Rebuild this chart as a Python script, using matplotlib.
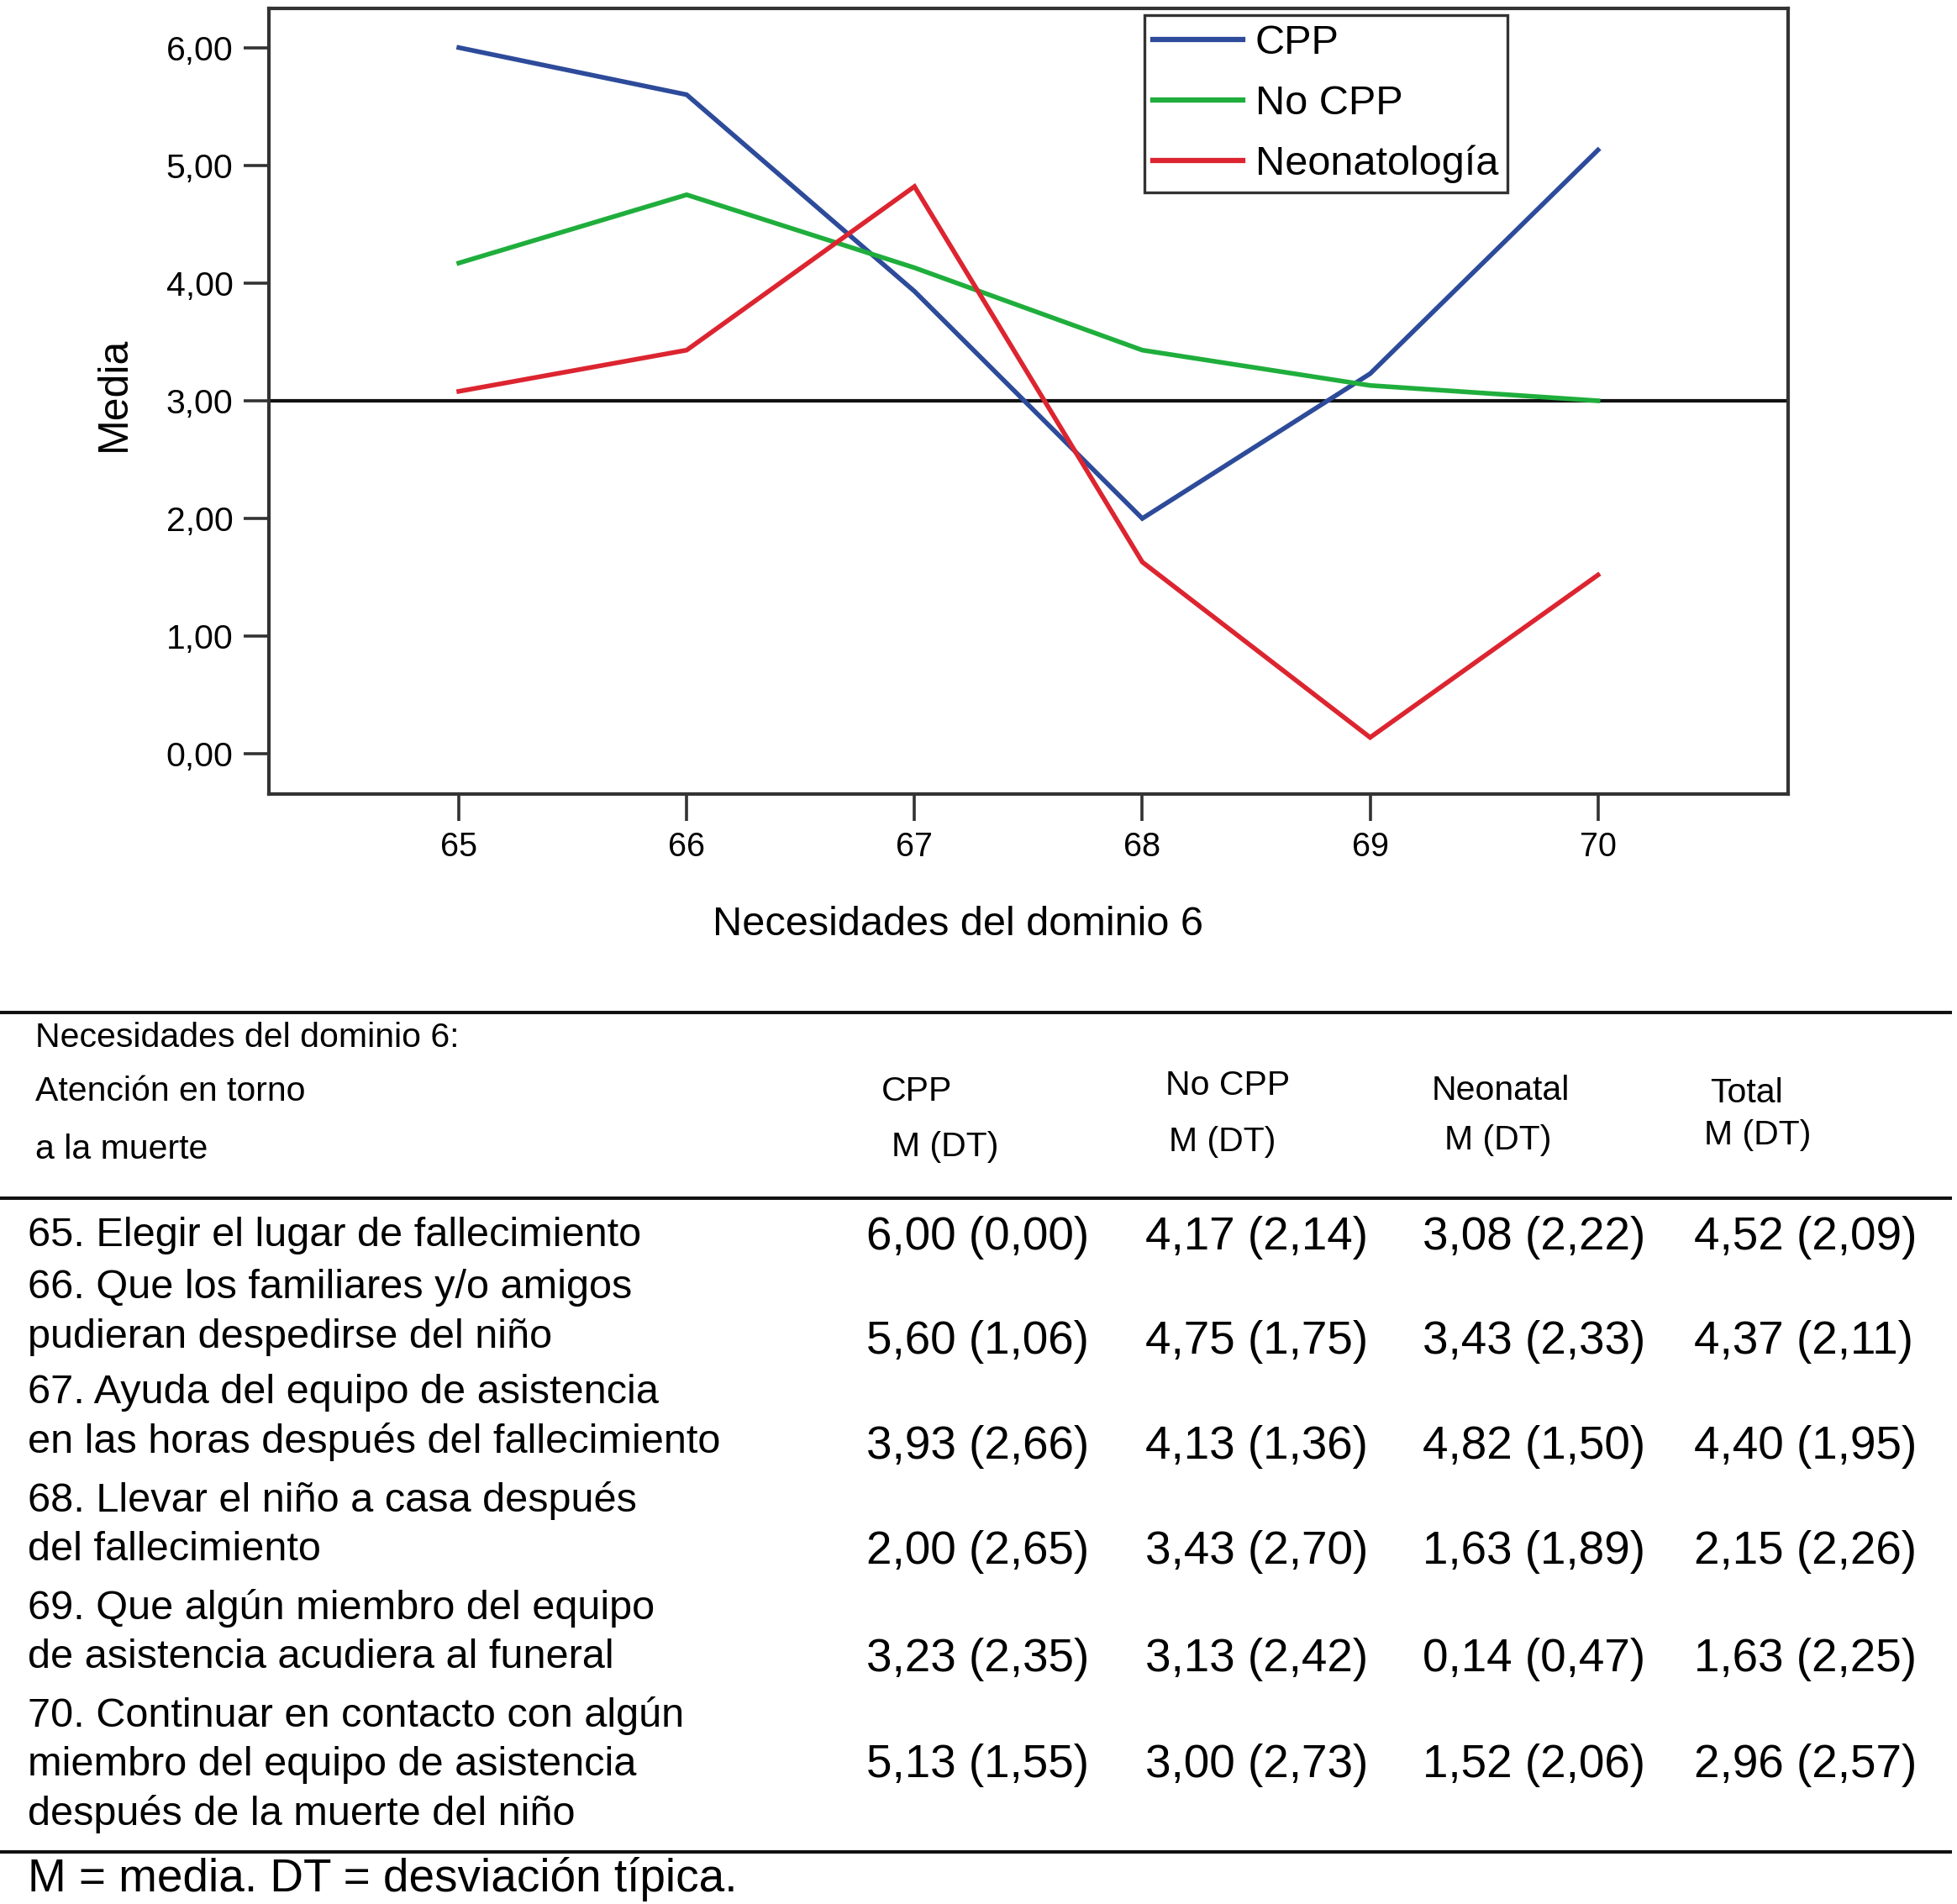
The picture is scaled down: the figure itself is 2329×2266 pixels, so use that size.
import matplotlib
matplotlib.use("Agg")
import matplotlib.pyplot as plt
from matplotlib.lines import Line2D

plt.rcParams['font.family'] = ['Liberation Sans', 'DejaVu Sans']

# ---------------- data ----------------
items = [65, 66, 67, 68, 69, 70]
cpp_m = [6.00, 5.60, 3.93, 2.00, 3.23, 5.13]
cpp_sd = [0.00, 1.06, 2.66, 2.65, 2.35, 1.55]
nocpp_m = [4.17, 4.75, 4.13, 3.43, 3.13, 3.00]
nocpp_sd = [2.14, 1.75, 1.36, 2.70, 2.42, 2.73]
neo_m = [3.08, 3.43, 4.82, 1.63, 0.14, 1.52]
neo_sd = [2.22, 2.33, 1.50, 1.89, 0.47, 2.06]
tot_m = [4.52, 4.37, 4.40, 2.15, 1.63, 2.96]
tot_sd = [2.09, 2.11, 1.95, 2.26, 2.25, 2.57]

series_names = ["CPP", "No CPP", "Neonatología"]
yticks = [0, 1, 2, 3, 4, 5, 6]
ytick_labels = ["0,00", "1,00", "2,00", "3,00", "4,00", "5,00", "6,00"]
reference_level = 3.0

item_labels = [
    ["65. Elegir el lugar de fallecimiento"],
    ["66. Que los familiares y/o amigos", "pudieran despedirse del niño"],
    ["67. Ayuda del equipo de asistencia", "en las horas después del fallecimiento"],
    ["68. Llevar el niño a casa después", "del fallecimiento"],
    ["69. Que algún miembro del equipo", "de asistencia acudiera al funeral"],
    ["70. Continuar en contacto con algún", "miembro del equipo de asistencia",
     "después de la muerte del niño"],
]
header_lines = ["Necesidades del dominio 6:", "Atención en torno", "a la muerte"]
col_headers = ["CPP", "No CPP", "Neonatal", "Total"]
footnote = "M = media. DT = desviación típica."

# ---------------- figure ----------------
W, H = 2329, 2266
fig = plt.figure(figsize=(W / 100, H / 100), dpi=100)

DW, DH = 1565.2, 1522.8  # reference display scale helpers
def fx(x):
    return x / DW
def fy(y):
    return 1 - y / DH

ax = fig.add_axes([fx(215), fy(635), fx(1430) - fx(215), fy(7) - fy(635)])

colors = ["#2d4b9a", "#1fae3c", "#dc2530"]
for vals, name, c in zip([cpp_m, nocpp_m, neo_m], series_names, colors):
    ax.plot(items, vals, color=c, lw=4.0, label=name, solid_joinstyle='miter')

ax.axhline(reference_level, color="#111111", lw=3.0, zorder=1)

ax.set_xlim(64.166, 70.834)
ax.set_ylim(-0.34, 6.33)
ax.set_xticks(items)
ax.set_xticklabels([str(i) for i in items])
ax.set_yticks(yticks)
ax.set_yticklabels(ytick_labels)

spine_c = "#333333"
for s in ax.spines.values():
    s.set_linewidth(3.0)
    s.set_color(spine_c)

ax.tick_params(axis='y', length=21.5, width=2.6, color=spine_c, pad=9,
               labelsize=29.5, direction='out')
ax.tick_params(axis='x', length=23, width=2.6, color=spine_c, pad=9,
               labelsize=28.5, direction='out')

ax.set_xlabel("Necesidades del dominio 6", fontsize=35)
ax.xaxis.set_label_coords((766 - 215) / 1215, -0.142)
ax.set_ylabel("Media", fontsize=36)
ax.yaxis.set_label_coords((107 - 215) / 1215, 0.5096)

leg = ax.legend(loc='upper left', bbox_to_anchor=((915 - 215) / 1215, (635 - 12) / 628),
                borderaxespad=0, fontsize=35, frameon=True, fancybox=False,
                handlelength=2.2, handletextpad=0.3, labelspacing=0.56,
                borderpad=0.22, edgecolor='black')
leg.get_frame().set_linewidth(2.4)
for l in leg.get_lines():
    l.set_linewidth(4.5)

# ---------------- table ----------------
rule_lw = 2.9
for yr in [810, 958, 1481]:
    fig.add_artist(Line2D([0, fx(1560)], [fy(yr), fy(yr)], color="#111111", lw=rule_lw))

hdr_fs = 29.5
for txt, yy in zip(header_lines, [830, 873, 919]):
    fig.text(fx(28), fy(yy), txt, fontsize=hdr_fs, ha='left', va='center')

col_hdr_pos = [(705, 873, 713, 917), (932, 868, 935, 913),
               (1145, 872, 1155, 912), (1368, 874, 1363, 908)]
for name, (x1, y1, x2, y2) in zip(col_headers, col_hdr_pos):
    fig.text(fx(x1), fy(y1), name, fontsize=hdr_fs, ha='left', va='center')
    fig.text(fx(x2), fy(y2), "M (DT)", fontsize=hdr_fs, ha='left', va='center')

row_fs = 35
row_first_y = [988, 1030, 1114, 1200, 1286, 1372]
line_step = 39.5
for lines, y0 in zip(item_labels, row_first_y):
    for i, t in enumerate(lines):
        fig.text(fx(22), fy(y0 + i * line_step), t, fontsize=row_fs, ha='left', va='center')

def fmt(m, sd):
    return f"{m:.2f} ({sd:.2f})".replace(".", ",")

val_fs = 39.5
col_x = [693, 916, 1138, 1355]
val_y = [990, 1073, 1157.5, 1241.5, 1327.5, 1412]
groups = [(cpp_m, cpp_sd), (nocpp_m, nocpp_sd), (neo_m, neo_sd), (tot_m, tot_sd)]
for r in range(len(items)):
    for (ms, sds), cx in zip(groups, col_x):
        fig.text(fx(cx), fy(val_y[r]), fmt(ms[r], sds[r]), fontsize=val_fs,
                 ha='left', va='center')

fig.text(fx(22), fy(1503), footnote, fontsize=39.5, ha='left', va='center')

fig.savefig("out.png", dpi=100, facecolor='white')
